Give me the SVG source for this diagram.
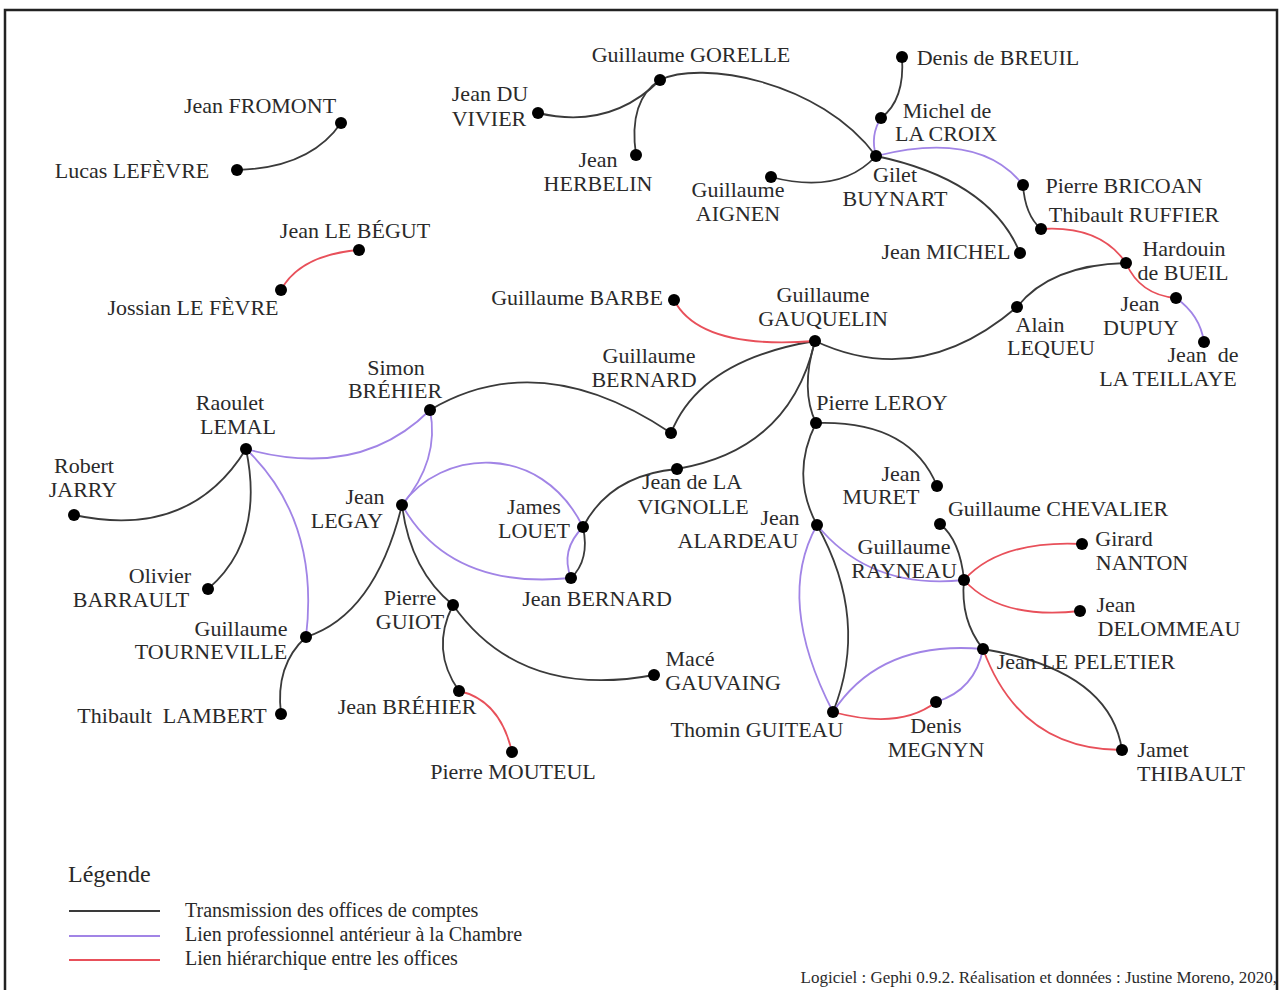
<svg xmlns="http://www.w3.org/2000/svg" width="1281" height="990" viewBox="0 0 1281 990">
<style>
.e{fill:none;stroke-width:1.8}
.k{stroke:#3a3a3a}
.p{stroke:#a184e6}
.r{stroke:#e8505a}
.d{fill:#000}
text{font-family:"Liberation Serif","Times New Roman",serif;fill:#2a2a2a}
.l{font-size:22px;text-anchor:middle}
.lg{font-size:20px}
.cr{font-size:17px}
</style>
<rect x="5" y="10" width="1272" height="990" fill="#fff" stroke="#222" stroke-width="2.5"/>
<g id="connectors">
<path class="e k" d="M237,170 Q310,168 341,123"/>
<path class="e k" d="M538,113 Q610,130 660,80"/>
<path class="e k" d="M636,155 Q628,100 660,80"/>
<path class="e k" d="M660,80 C700,60 820,80 876,156"/>
<path class="e k" d="M771,177 Q840,195 876,156"/>
<path class="e k" d="M876,156 Q990,180 1020,253"/>
<path class="e k" d="M902,57 Q905,100 881,118"/>
<path class="e k" d="M1023,185 Q1025,215 1041,229"/>
<path class="e k" d="M1017,307 Q1050,265 1126,263"/>
<path class="e k" d="M815,341 Q920,390 1017,307"/>
<path class="e k" d="M671,433 Q700,360 815,341"/>
<path class="e k" d="M677,469 Q790,450 815,341"/>
<path class="e k" d="M815,341 Q800,390 816,423"/>
<path class="e k" d="M583,527 Q610,475 677,469"/>
<path class="e k" d="M430,410 Q540,345 671,433"/>
<path class="e k" d="M583,527 Q590,560 571,578"/>
<path class="e k" d="M74,515 Q190,540 246,449"/>
<path class="e k" d="M246,449 Q265,540 208,589"/>
<path class="e k" d="M306,637 Q375,615 402,505"/>
<path class="e k" d="M402,505 Q410,570 453,605"/>
<path class="e k" d="M306,637 Q275,665 281,714"/>
<path class="e k" d="M453,605 Q430,650 459,691"/>
<path class="e k" d="M453,605 Q520,700 654,675"/>
<path class="e k" d="M816,423 Q910,420 937,486"/>
<path class="e k" d="M816,423 Q790,475 817,525"/>
<path class="e k" d="M817,525 Q870,620 833,712"/>
<path class="e k" d="M940,524 Q960,540 964,580"/>
<path class="e k" d="M964,580 Q960,620 983,649"/>
<path class="e k" d="M983,649 Q1110,670 1122,750"/>
<path class="e p" d="M881,118 Q870,135 876,156"/>
<path class="e p" d="M876,156 Q980,130 1023,185"/>
<path class="e p" d="M1176,298 Q1200,315 1204,342"/>
<path class="e p" d="M246,449 Q360,480 430,410"/>
<path class="e p" d="M246,449 Q320,520 306,637"/>
<path class="e p" d="M430,410 Q440,460 402,505"/>
<path class="e p" d="M402,505 C440,450 540,440 583,527"/>
<path class="e p" d="M402,505 Q450,590 571,578"/>
<path class="e p" d="M583,527 Q560,550 571,578"/>
<path class="e p" d="M817,525 Q870,590 964,580"/>
<path class="e p" d="M817,525 Q775,600 833,712"/>
<path class="e p" d="M833,712 Q880,640 983,649"/>
<path class="e p" d="M936,702 Q975,690 983,649"/>
<path class="e r" d="M281,290 Q300,255 359,250"/>
<path class="e r" d="M1041,229 Q1100,225 1126,263"/>
<path class="e r" d="M1126,263 Q1140,295 1176,298"/>
<path class="e r" d="M674,300 Q700,350 815,341"/>
<path class="e r" d="M459,691 Q500,700 512,752"/>
<path class="e r" d="M964,580 Q1000,540 1082,544"/>
<path class="e r" d="M964,580 Q1000,620 1080,611"/>
<path class="e r" d="M833,712 Q900,730 936,702"/>
<path class="e r" d="M983,649 Q1020,750 1122,750"/>
</g>
<g id="n-fromont"><circle class="d" cx="341" cy="123" r="6"/><text class="l" x="260" y="113">Jean FROMONT</text></g>
<g id="n-lefevre"><circle class="d" cx="237" cy="170" r="6"/><text class="l" x="132" y="178">Lucas LEFÈVRE</text></g>
<g id="n-begut"><circle class="d" cx="359" cy="250" r="6"/><text class="l" x="355" y="238">Jean LE BÉGUT</text></g>
<g id="n-jlefevre"><circle class="d" cx="281" cy="290" r="6"/><text class="l" x="193" y="315">Jossian LE FÈVRE</text></g>
<g id="n-gorelle"><circle class="d" cx="660" cy="80" r="6"/><text class="l" x="691" y="62">Guillaume GORELLE</text></g>
<g id="n-duvivier"><circle class="d" cx="538" cy="113" r="6"/><text class="l" x="490" y="101">Jean DU</text><text class="l" x="489" y="126">VIVIER</text></g>
<g id="n-herbelin"><circle class="d" cx="636" cy="155" r="6"/><text class="l" x="598" y="167">Jean</text><text class="l" x="598" y="191">HERBELIN</text></g>
<g id="n-breuil"><circle class="d" cx="902" cy="57" r="6"/><text class="l" x="998" y="65">Denis de BREUIL</text></g>
<g id="n-lacroix"><circle class="d" cx="881" cy="118" r="6"/><text class="l" x="947" y="118">Michel de</text><text class="l" x="946" y="141">LA CROIX</text></g>
<g id="n-buynart"><circle class="d" cx="876" cy="156" r="6"/><text class="l" x="895" y="182">Gilet</text><text class="l" x="895" y="206">BUYNART</text></g>
<g id="n-aignen"><circle class="d" cx="771" cy="177" r="6"/><text class="l" x="738" y="197">Guillaume</text><text class="l" x="738" y="221">AIGNEN</text></g>
<g id="n-bricoan"><circle class="d" cx="1023" cy="185" r="6"/><text class="l" x="1124" y="193">Pierre BRICOAN</text></g>
<g id="n-ruffier"><circle class="d" cx="1041" cy="229" r="6"/><text class="l" x="1134" y="222">Thibault RUFFIER</text></g>
<g id="n-jmichel"><circle class="d" cx="1020" cy="253" r="6"/><text class="l" x="946" y="259">Jean MICHEL</text></g>
<g id="n-bueil"><circle class="d" cx="1126" cy="263" r="6"/><text class="l" x="1184" y="256">Hardouin</text><text class="l" x="1183" y="280">de BUEIL</text></g>
<g id="n-lequeu"><circle class="d" cx="1017" cy="307" r="6"/><text class="l" x="1040" y="332">Alain</text><text class="l" x="1051" y="355">LEQUEU</text></g>
<g id="n-dupuy"><circle class="d" cx="1176" cy="298" r="6"/><text class="l" x="1140" y="311">Jean</text><text class="l" x="1141" y="335">DUPUY</text></g>
<g id="n-teillaye"><circle class="d" cx="1204" cy="342" r="6"/><text class="l" x="1203" y="362" xml:space="preserve">Jean  de</text><text class="l" x="1168" y="386">LA TEILLAYE</text></g>
<g id="n-barbe"><circle class="d" cx="674" cy="300" r="6"/><text class="l" x="577" y="305">Guillaume BARBE</text></g>
<g id="n-gauquelin"><circle class="d" cx="815" cy="341" r="6"/><text class="l" x="823" y="302">Guillaume</text><text class="l" x="823" y="326">GAUQUELIN</text></g>
<g id="n-gbernard"><circle class="d" cx="671" cy="433" r="6"/><text class="l" x="649" y="363">Guillaume</text><text class="l" x="644" y="387">BERNARD</text></g>
<g id="n-sbrehier"><circle class="d" cx="430" cy="410" r="6"/><text class="l" x="396" y="375">Simon</text><text class="l" x="395" y="398">BRÉHIER</text></g>
<g id="n-lemal"><circle class="d" cx="246" cy="449" r="6"/><text class="l" x="230" y="410">Raoulet</text><text class="l" x="238" y="434">LEMAL</text></g>
<g id="n-jarry"><circle class="d" cx="74" cy="515" r="6"/><text class="l" x="84" y="473">Robert</text><text class="l" x="83" y="497">JARRY</text></g>
<g id="n-legay"><circle class="d" cx="402" cy="505" r="6"/><text class="l" x="365" y="504">Jean</text><text class="l" x="347" y="528">LEGAY</text></g>
<g id="n-louet"><circle class="d" cx="583" cy="527" r="6"/><text class="l" x="534" y="514">James</text><text class="l" x="534" y="538">LOUET</text></g>
<g id="n-vignolle"><circle class="d" cx="677" cy="469" r="6"/><text class="l" x="692" y="489">Jean de LA</text><text class="l" x="693" y="514">VIGNOLLE</text></g>
<g id="n-jbernard"><circle class="d" cx="571" cy="578" r="6"/><text class="l" x="597" y="606">Jean BERNARD</text></g>
<g id="n-barrault"><circle class="d" cx="208" cy="589" r="6"/><text class="l" x="160" y="583">Olivier</text><text class="l" x="131" y="607">BARRAULT</text></g>
<g id="n-tourneville"><circle class="d" cx="306" cy="637" r="6"/><text class="l" x="241" y="636">Guillaume</text><text class="l" x="211" y="659">TOURNEVILLE</text></g>
<g id="n-guiot"><circle class="d" cx="453" cy="605" r="6"/><text class="l" x="410" y="605">Pierre</text><text class="l" x="410" y="629">GUIOT</text></g>
<g id="n-lambert"><circle class="d" cx="281" cy="714" r="6"/><text class="l" x="172" y="723" xml:space="preserve">Thibault  LAMBERT</text></g>
<g id="n-jbrehier"><circle class="d" cx="459" cy="691" r="6"/><text class="l" x="407" y="714">Jean BRÉHIER</text></g>
<g id="n-mouteul"><circle class="d" cx="512" cy="752" r="6"/><text class="l" x="513" y="779">Pierre MOUTEUL</text></g>
<g id="n-gauvaing"><circle class="d" cx="654" cy="675" r="6"/><text class="l" x="690" y="666">Macé</text><text class="l" x="723" y="690">GAUVAING</text></g>
<g id="n-leroy"><circle class="d" cx="816" cy="423" r="6"/><text class="l" x="882" y="410">Pierre LEROY</text></g>
<g id="n-muret"><circle class="d" cx="937" cy="486" r="6"/><text class="l" x="901" y="481">Jean</text><text class="l" x="881" y="504">MURET</text></g>
<g id="n-alardeau"><circle class="d" cx="817" cy="525" r="6"/><text class="l" x="780" y="525">Jean</text><text class="l" x="738" y="548">ALARDEAU</text></g>
<g id="n-chevalier"><circle class="d" cx="940" cy="524" r="6"/><text class="l" x="1058" y="516">Guillaume CHEVALIER</text></g>
<g id="n-rayneau"><circle class="d" cx="964" cy="580" r="6"/><text class="l" x="904" y="554">Guillaume</text><text class="l" x="904" y="578">RAYNEAU</text></g>
<g id="n-nanton"><circle class="d" cx="1082" cy="544" r="6"/><text class="l" x="1124" y="546">Girard</text><text class="l" x="1142" y="570">NANTON</text></g>
<g id="n-delommeau"><circle class="d" cx="1080" cy="611" r="6"/><text class="l" x="1116" y="612">Jean</text><text class="l" x="1169" y="636">DELOMMEAU</text></g>
<g id="n-peletier"><circle class="d" cx="983" cy="649" r="6"/><text class="l" x="1086" y="669">Jean LE PELETIER</text></g>
<g id="n-guiteau"><circle class="d" cx="833" cy="712" r="6"/><text class="l" x="757" y="737">Thomin GUITEAU</text></g>
<g id="n-megnyn"><circle class="d" cx="936" cy="702" r="6"/><text class="l" x="936" y="733">Denis</text><text class="l" x="936" y="757">MEGNYN</text></g>
<g id="n-thibault"><circle class="d" cx="1122" cy="750" r="6"/><text class="l" x="1163" y="757">Jamet</text><text class="l" x="1191" y="781">THIBAULT</text></g>
<g id="legend">
<text x="68" y="882" style="font-size:24px">Légende</text>
<line class="e k" x1="69" y1="911" x2="160" y2="911"/>
<line class="e p" x1="69" y1="936" x2="160" y2="936"/>
<line class="e r" x1="69" y1="960" x2="160" y2="960"/>
<text class="lg" x="185" y="917">Transmission des offices de comptes</text>
<text class="lg" x="185" y="941">Lien professionnel antérieur à la Chambre</text>
<text class="lg" x="185" y="965">Lien hiérarchique entre les offices</text>
</g>
<text class="cr" x="1277" y="983" text-anchor="end">Logiciel : Gephi 0.9.2. Réalisation et données : Justine Moreno, 2020,</text>
</svg>
